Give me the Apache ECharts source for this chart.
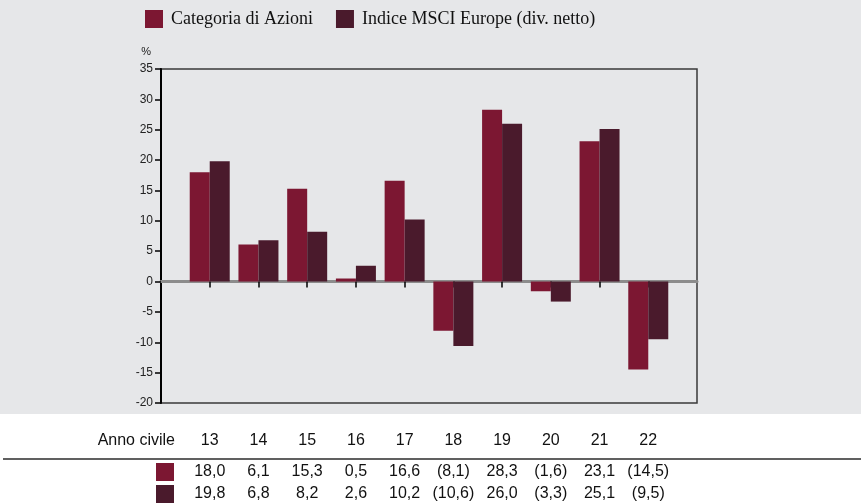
<!DOCTYPE html>
<html>
<head>
<meta charset="utf-8">
<script src="https://cdn.jsdelivr.net/npm/echarts@6/dist/echarts.min.js"></script>
<style>
html,body{margin:0;padding:0;background:#ffffff;}
#chart{width:861px;height:503px;}
</style>
</head>
<body>
<div id="chart"></div>
<script>
// ---- Data ----
var years = [13, 14, 15, 16, 17, 18, 19, 20, 21, 22];
var seriesNames = ['Categoria di Azioni', 'Indice MSCI Europe (div. netto)'];
var categoriaValues = [18.0, 6.1, 15.3, 0.5, 16.6, -8.1, 28.3, -1.6, 23.1, -14.5];
var indiceValues = [19.8, 6.8, 8.2, 2.6, 10.2, -10.6, 26.0, -3.3, 25.1, -9.5];
var yTicks = [-20, -15, -10, -5, 0, 5, 10, 15, 20, 25, 30, 35];
var headerLabel = 'Anno civile';
var colors = ['#7c1732', '#4a1a2c'];

function fmt(v) {
  var s = Math.abs(v).toFixed(1).replace('.', ',');
  return v < 0 ? '(' + s + ')' : s;
}
function pairs(vals) {
  return vals.map(function (v, i) { return [years[i], v]; });
}
var xMin = years[0] - 1, xMax = years[years.length - 1] + 1;

function tableAxis(offset, formatter, name, nameStyle, nameGap) {
  return {
    type: 'value', gridIndex: 0, position: 'bottom', offset: offset,
    min: xMin, max: xMax, interval: 1,
    axisLine: { show: false }, axisTick: { show: false }, splitLine: { show: false },
    axisLabel: {
      show: true, customValues: years, margin: 0, verticalAlign: 'middle',
      fontFamily: 'Liberation Sans, Arial, sans-serif', fontSize: 16, color: '#111',
      formatter: formatter
    },
    name: name, nameLocation: 'start', nameGap: nameGap,
    nameTextStyle: nameStyle
  };
}

var chart = echarts.init(document.getElementById('chart'), null, { renderer: 'canvas' });
var option = {
  animation: false,
  backgroundColor: '#ffffff',
  graphic: [
    { type: 'rect', z: -10, silent: true, shape: { x: 0, y: 0, width: 861, height: 414 }, style: { fill: '#e6e7e9' } },
    { type: 'line', z: 10, silent: true, shape: { x1: 3, y1: 459, x2: 861, y2: 459 }, style: { stroke: '#2b2b2b', lineWidth: 1.5 } }
  ],
  legend: {
    data: seriesNames,
    left: 140, top: 5,
    icon: 'rect', itemWidth: 18, itemHeight: 18, itemGap: 23,
    textStyle: { fontFamily: 'Liberation Serif, Times New Roman, serif', fontSize: 18, color: '#111', padding: [0, 0, 0, 3] }
  },
  grid: {
    left: 161, top: 69, width: 536, height: 334,
    show: true, borderColor: '#3a3a3a', borderWidth: 1.5, backgroundColor: 'transparent'
  },
  xAxis: [
    {
      type: 'value', gridIndex: 0, min: xMin, max: xMax, interval: 1,
      axisLine: { show: true, onZero: true, lineStyle: { color: '#8c8c8c', width: 3 } },
      axisTick: { show: true, customValues: years, length: 6, lineStyle: { color: '#000', width: 1.5 } },
      axisLabel: { show: false },
      splitLine: { show: false }
    },
    tableAxis(38, function (v) { return years.indexOf(v) >= 0 ? String(v) : ''; },
      headerLabel, { fontFamily: 'Liberation Sans, Arial, sans-serif', fontSize: 16, color: '#111', verticalAlign: 'middle' }, -14),
    tableAxis(69, function (v) { var i = years.indexOf(v); return i >= 0 ? fmt(categoriaValues[i]) : ''; },
      '{sq| }', { rich: { sq: { width: 18, height: 18, backgroundColor: colors[0] } } }, -13),
    tableAxis(91, function (v) { var i = years.indexOf(v); return i >= 0 ? fmt(indiceValues[i]) : ''; },
      '{sq| }', { rich: { sq: { width: 18, height: 18, backgroundColor: colors[1] } } }, -13)
  ],
  yAxis: {
    type: 'value', min: yTicks[0], max: yTicks[yTicks.length - 1], interval: 5,
    axisLine: { show: true, lineStyle: { color: '#000', width: 2 } },
    axisTick: { show: true, length: 6, lineStyle: { color: '#000', width: 1.5 } },
    axisLabel: { margin: 8, fontFamily: 'Liberation Sans, Arial, sans-serif', fontSize: 12, color: '#222' },
    splitLine: { show: false },
    name: '%', nameLocation: 'end', nameGap: 12,
    nameTextStyle: { fontFamily: 'Liberation Sans, Arial, sans-serif', fontSize: 11, color: '#222', align: 'right', padding: [0, 10, 0, 0] }
  },
  series: [
    {
      name: seriesNames[0], type: 'bar', xAxisIndex: 0, yAxisIndex: 0,
      data: pairs(categoriaValues), barWidth: 20, barGap: '0%',
      itemStyle: { color: colors[0] }
    },
    {
      name: seriesNames[1], type: 'bar', xAxisIndex: 0, yAxisIndex: 0,
      data: pairs(indiceValues), barWidth: 20, barGap: '0%',
      itemStyle: { color: colors[1] }
    }
  ]
};
chart.setOption(option);
</script>
</body>
</html>
